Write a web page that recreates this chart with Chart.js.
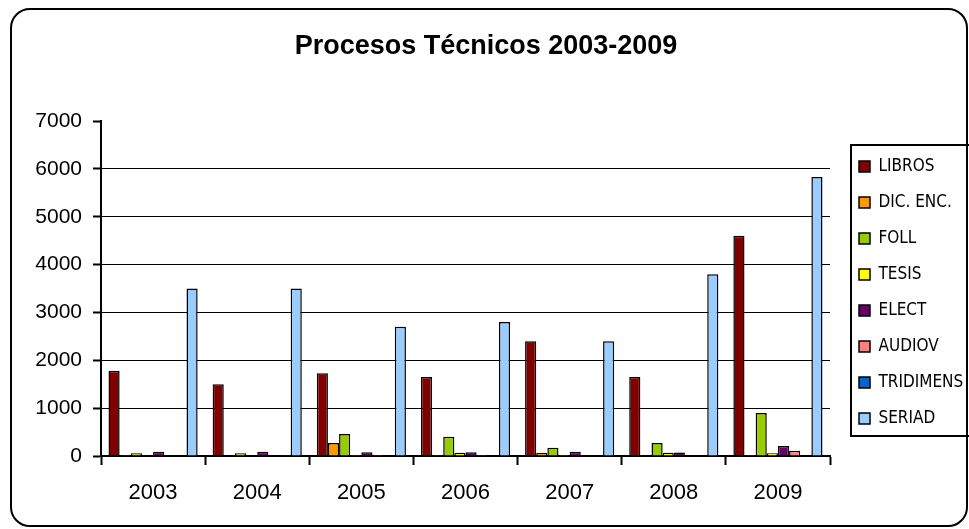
<!DOCTYPE html>
<html>
<head>
<meta charset="utf-8">
<script src="https://cdn.jsdelivr.net/npm/chart.js@4.4.0/dist/chart.umd.min.js"></script>
<style>
  html, body { margin: 0; padding: 0; background: #fff; overflow: hidden; width: 969px; height: 529px; }
  #wrap { position: relative; width: 969px; height: 529px; overflow: hidden; }
  canvas { position: absolute; left: 0; top: 0; }
  #frame { position: absolute; left: 10px; top: 8px; width: 958px; height: 519px; box-sizing: border-box;
           border: 2px solid #000; border-radius: 20px; pointer-events: none; }
</style>
</head>
<body>
<div id="wrap">
  <canvas id="c" width="972" height="529" style="width:972px;height:529px"></canvas>
  <div id="frame"></div>
</div>
<script>
const years = ['2003', '2004', '2005', '2006', '2007', '2008', '2009'];
const seriesNames = ['LIBROS', 'DIC. ENC.', 'FOLL', 'TESIS', 'ELECT', 'AUDIOV', 'TRIDIMENS', 'SERIAD'];
const libros    = [1780, 1500, 1730, 1650, 2400, 1650, 4600];
const dicEnc    = [20, 10, 270, 20, 70, 10, 20];
const foll      = [60, 60, 460, 400, 170, 270, 900];
const tesis     = [10, 10, 20, 70, 20, 70, 60];
const elect     = [90, 90, 80, 80, 90, 75, 210];
const audiov    = [0, 0, 20, 20, 0, 0, 110];
const tridimens = [0, 20, 0, 0, 0, 0, 0];
const seriad    = [3500, 3500, 2700, 2800, 2400, 3800, 5830];
const yTicks    = [0, 1000, 2000, 3000, 4000, 5000, 6000, 7000];

const colors = ['#800000', '#FF9900', '#99CC00', '#FFFF00', '#660066', '#FF8080', '#0066CC', '#99CCFF'];
const values = [libros, dicEnc, foll, tesis, elect, audiov, tridimens, seriad];

const AXIS_FONT = "'Liberation Sans', Arial, sans-serif";
const LEGEND_FONT = "'Liberation Sans Narrow', 'Arial Narrow', 'DejaVu Sans Condensed', 'Liberation Sans', Arial, sans-serif";

const layoutTweaks = {
  id: 'layoutTweaks',
  afterInit(chart) {
    const leg = chart.legend;
    if (!leg) return;
    const fit = leg.fit;
    leg.fit = function () { fit.call(this); this.width = 142; };
  },
  afterLayout(chart) {
    const leg = chart.legend;
    if (!leg || !leg.columnSizes || !leg.columnSizes.length) return;
    leg.left += 10; leg.right += 10;
    const pad = leg.options.labels.padding;
    const start = (leg.top + pad + leg.bottom - leg.columnSizes[0].height) / 2;
    const dy = 158 - start;
    leg.top += dy; leg.bottom += dy;
  },
  afterDraw(chart) {
    const ctx = chart.ctx;
    ctx.save();
    ctx.strokeStyle = '#000';
    ctx.lineWidth = 2;
    ctx.strokeRect(851, 145, 200, 291);
    ctx.restore();
  }
};

new Chart(document.getElementById('c'), {
  type: 'bar',
  data: {
    labels: years,
    datasets: seriesNames.map((name, i) => ({
      label: name,
      data: values[i],
      backgroundColor: colors[i],
      borderColor: '#000',
      borderWidth: 1.5,
      borderSkipped: 'start',
      categoryPercentage: 0.856,
      barPercentage: 1.0
    }))
  },
  options: {
    responsive: false,
    animation: false,
    devicePixelRatio: 1,
    layout: { padding: { left: 0, right: 0, top: 0, bottom: 0 } },
    plugins: {
      title: {
        display: true,
        text: 'Procesos Técnicos 2003-2009',
        color: '#000',
        font: { family: AXIS_FONT, size: 27, weight: 'bold', lineHeight: 1.2 },
        padding: { top: 30, bottom: 58.6 }
      },
      legend: {
        display: true,
        position: 'right',
        align: 'center',
        labels: {
          color: '#000',
          font: { family: LEGEND_FONT, size: 17 },
          boxWidth: 11,
          boxHeight: 11,
          padding: 19
        }
      },
      tooltip: { enabled: false }
    },
    scales: {
      x: {
        grid: { display: true, drawOnChartArea: false, drawTicks: true, tickLength: 9, tickColor: '#000', tickWidth: 2, offset: true },
        border: { display: true, color: '#000', width: 2 },
        ticks: { color: '#000', font: { family: AXIS_FONT, size: 22 }, padding: 15, maxRotation: 0 },
        afterFit(s) { s.height = 73; }
      },
      y: {
        min: 0,
        max: 7000,
        afterBuildTicks(s) { s.ticks = yTicks.map(v => ({ value: v })); },
        grid: {
          color: ctx => (ctx.tick && ctx.tick.value === 7000) ? 'rgba(0,0,0,0)' : '#000',
          lineWidth: 1,
          tickColor: '#000',
          tickLength: 8,
          tickWidth: 2
        },
        border: { display: true, color: '#000', width: 2 },
        ticks: { color: '#000', font: { family: AXIS_FONT, size: 21 }, padding: 11, callback: v => String(v) },
        afterFit(s) { s.width = 101; }
      }
    }
  },
  plugins: [layoutTweaks]
});
</script>
</body>
</html>
